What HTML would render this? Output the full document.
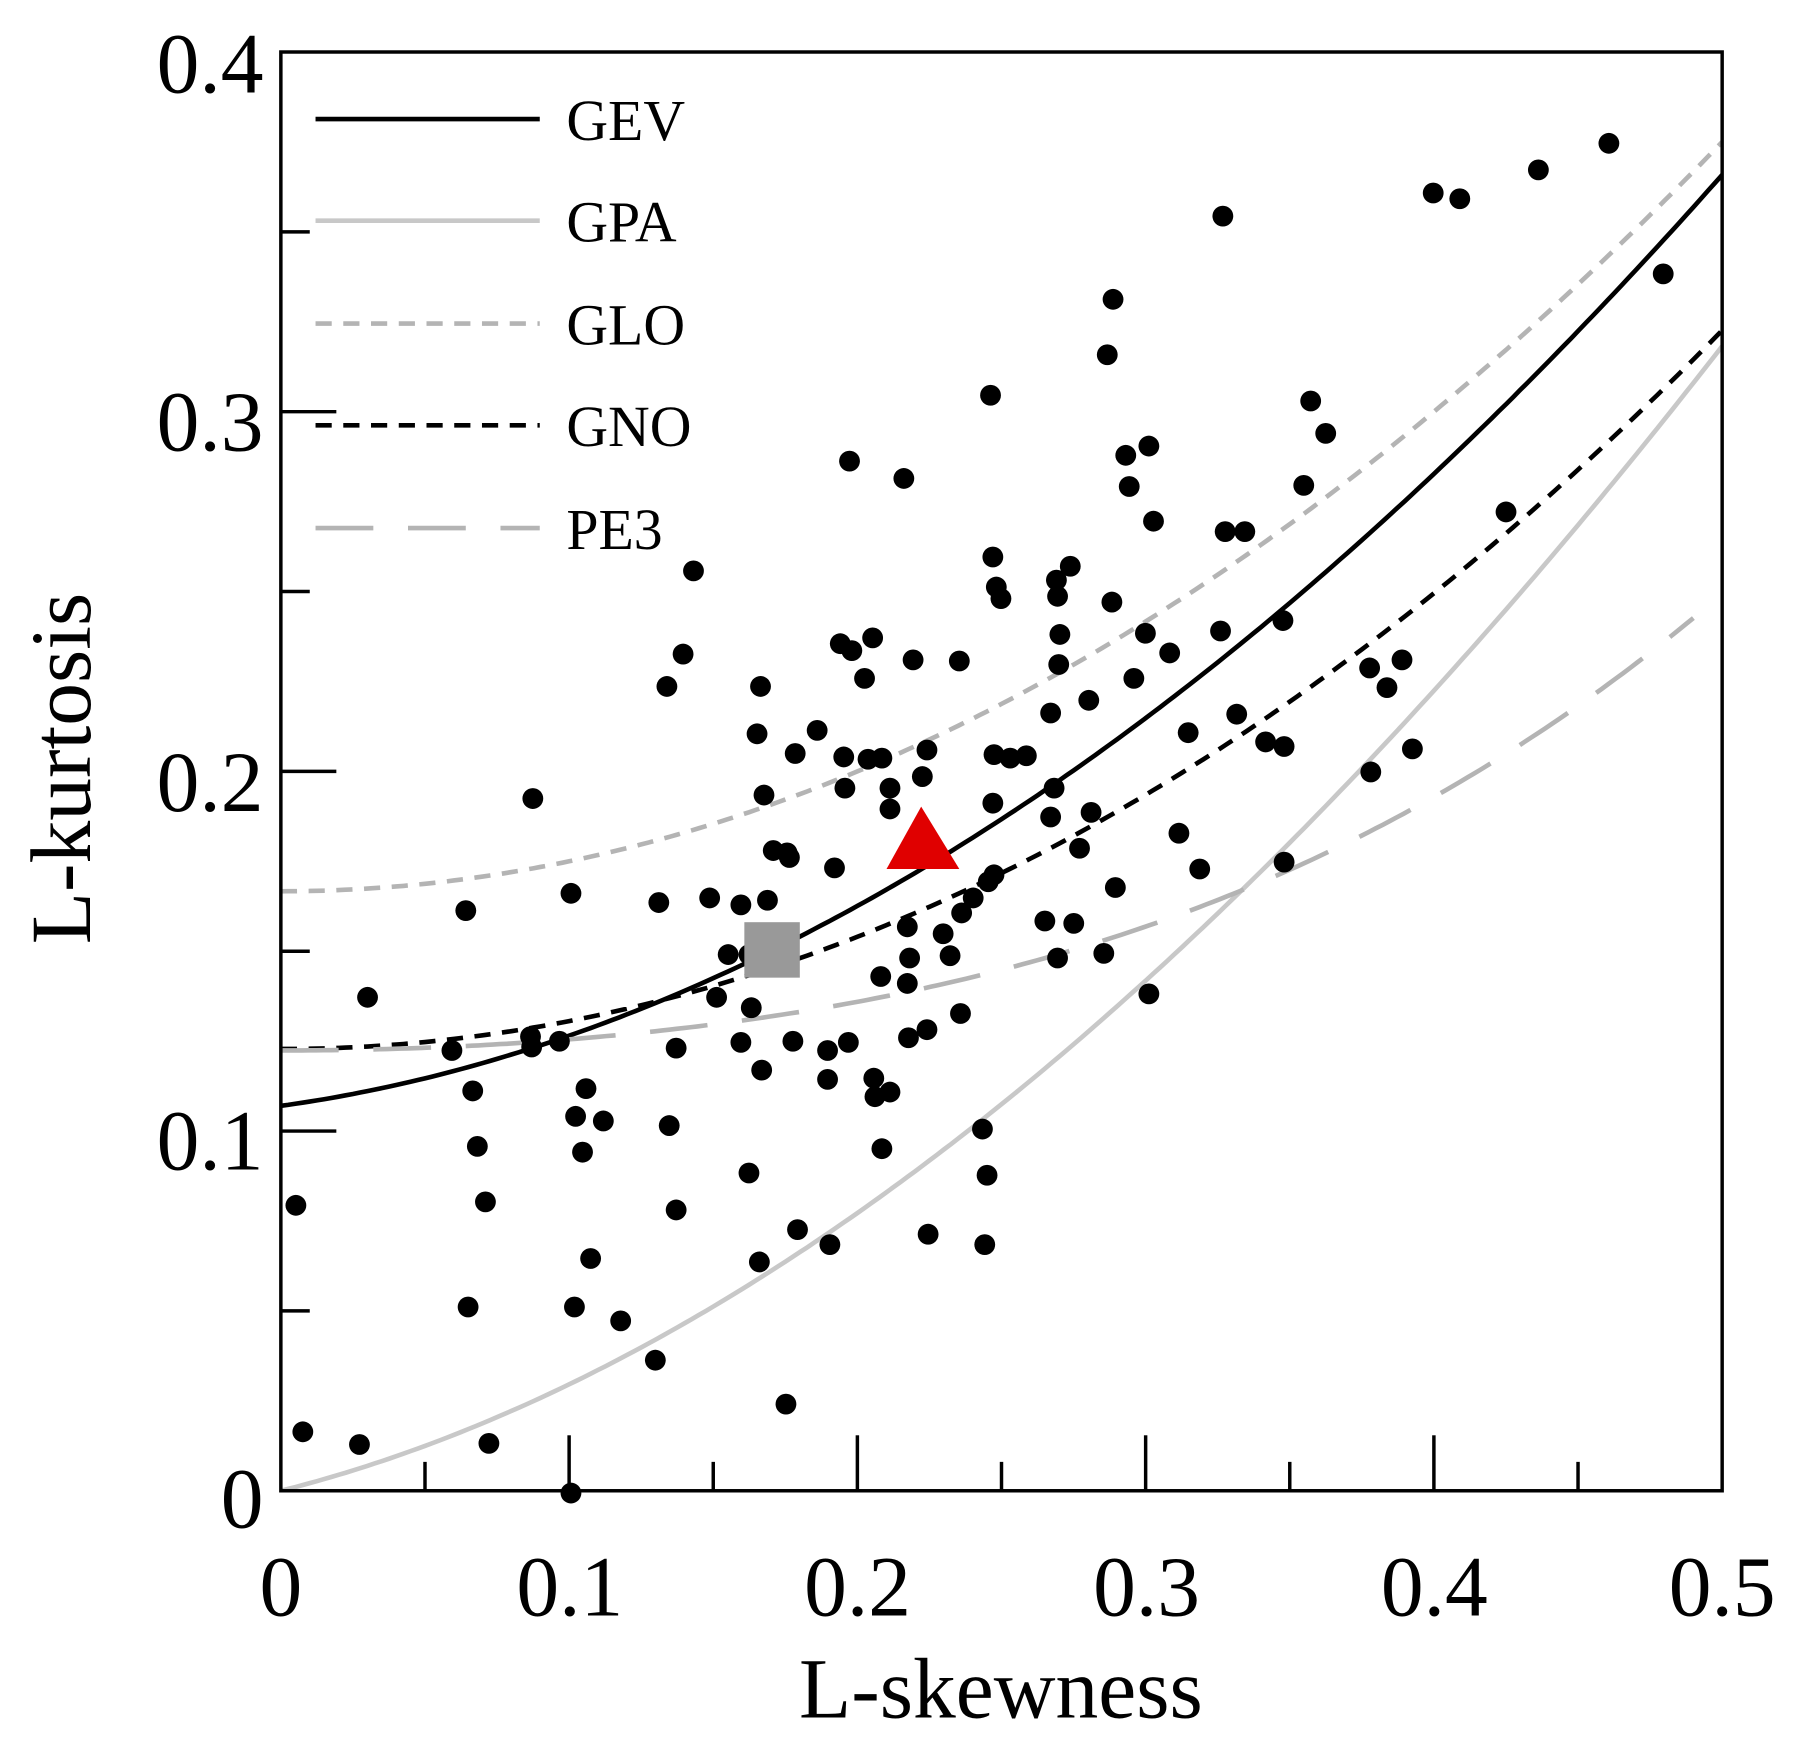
<!DOCTYPE html>
<html><head><meta charset="utf-8"><style>html,body{margin:0;padding:0;background:#fff}svg{display:block}</style></head>
<body>
<svg width="1810" height="1745" viewBox="0 0 1566 1510" preserveAspectRatio="none" xmlns="http://www.w3.org/2000/svg" font-family="Liberation Serif, serif">
<rect width="1566" height="1510" fill="#fff"/>
<defs><clipPath id="c"><rect x="243" y="45" width="1247" height="1245"/></clipPath></defs>
<g id="curves" clip-path="url(#c)" fill="none"></g>
<g id="pts" fill="#000"></g>
<polygon points="797,698 767,752 830,752" fill="#e00000"/>
<rect x="644" y="798" width="48" height="48" fill="#999"/>
<rect x="243" y="45" width="1247" height="1245" fill="none" stroke="#000" stroke-width="3"/>
<g id="ticks" stroke="#000" stroke-width="3"></g>
<g font-size="74" fill="#000">
<text x="228" y="80" text-anchor="end">0.4</text>
<text x="228" y="390" text-anchor="end">0.3</text>
<text x="228" y="702" text-anchor="end">0.2</text>
<text x="228" y="1012" text-anchor="end">0.1</text>
<text x="228" y="1322" text-anchor="end">0</text>
<text x="243" y="1398" text-anchor="middle">0</text>
<text x="493" y="1398" text-anchor="middle">0.1</text>
<text x="742" y="1398" text-anchor="middle">0.2</text>
<text x="992" y="1398" text-anchor="middle">0.3</text>
<text x="1241" y="1398" text-anchor="middle">0.4</text>
<text x="1490" y="1398" text-anchor="middle">0.5</text>
<text x="866" y="1486" text-anchor="middle">L-skewness</text>
<text transform="translate(78,665) rotate(-90)" text-anchor="middle">L-kurtosis</text>
</g>
<g stroke-width="4" fill="none">
<line x1="273" y1="103" x2="467" y2="103" stroke="#000"/>
<line x1="273" y1="191" x2="467" y2="191" stroke="#c8c8c8"/>
<line x1="273" y1="280" x2="467" y2="280" stroke="#b4b4b4" stroke-dasharray="14,10"/>
<line x1="273" y1="368" x2="467" y2="368" stroke="#000" stroke-dasharray="14,10"/>
<line x1="273" y1="457" x2="467" y2="457" stroke="#b4b4b4" stroke-dasharray="50,30"/>
</g>
<g font-size="50" fill="#000">
<text x="490" y="121">GEV</text><text x="490" y="209">GPA</text><text x="490" y="298">GLO</text><text x="490" y="386">GNO</text><text x="490" y="475">PE3</text>
</g>
<script>
(function(){
var X=function(s){return 243+s*2494},Y=function(k){return 1290-k*3112.5};
var f={
gev:function(t){return 0.10701+0.11090*t+0.84838*t*t-0.06669*Math.pow(t,3)+0.00567*Math.pow(t,4)-0.04208*Math.pow(t,5)+0.03763*Math.pow(t,6)},
gpa:function(t){return 0.20196*t+0.95924*t*t-0.20096*Math.pow(t,3)+0.04061*Math.pow(t,4)},
glo:function(t){return (1+5*t*t)/6},
gno:function(t){return 0.12282+0.77518*t*t+0.12279*Math.pow(t,4)-0.13638*Math.pow(t,6)+0.11368*Math.pow(t,8)},
pe3:function(t){return 0.12240+0.30115*t*t+0.95812*Math.pow(t,4)-0.57488*Math.pow(t,6)+0.19383*Math.pow(t,8)}};
var st={gev:['#000',''],gpa:['#c8c8c8',''],glo:['#b4b4b4','14,10'],gno:['#000','14,10'],pe3:['#b4b4b4','50,30']};
var g=document.getElementById('curves'),ns='http://www.w3.org/2000/svg';
for(var k in f){var d='',end=k=='pe3'?0.49:0.5;for(var i=0;i<=200;i++){var t=end*i/200;d+=(i?'L':'M')+X(t).toFixed(1)+','+Y(f[k](t)).toFixed(1);}
var p=document.createElementNS(ns,'path');p.setAttribute('d',d);p.setAttribute('stroke',st[k][0]);p.setAttribute('stroke-width','4');if(st[k][1])p.setAttribute('stroke-dasharray',st[k][1]);g.appendChild(p);}
var pts=[[1392,124],[1331,147],[1240,167],[1263,172],[1058,187],[1439,237],[963,259],[958,307],[857,342],[1134,347],[1147,375],[994,386],[974,394],[735,399],[782,414],[977,421],[1128,420],[998,451],[1060,460],[1077,460],[1303,443],[600,494],[859,482],[862,508],[866,518],[926,490],[914,502],[915,516],[962,521],[1110,537],[591,566],[577,594],[727,557],[737,563],[755,552],[790,571],[830,572],[658,594],[748,587],[991,548],[1012,565],[917,549],[1056,546],[981,587],[916,575],[1185,578],[1213,571],[1200,595],[942,606],[909,617],[707,632],[1028,634],[1070,618],[1095,642],[1111,646],[1222,648],[1186,668],[763,656],[751,657],[730,655],[731,682],[802,649],[798,672],[688,652],[655,635],[461,691],[860,653],[888,654],[874,656],[859,695],[770,682],[770,700],[661,688],[909,707],[944,703],[912,682],[934,734],[860,757],[855,763],[669,736],[681,738],[683,742],[722,751],[664,779],[641,783],[614,777],[570,781],[403,788],[494,773],[1111,746],[1020,721],[1038,752],[965,768],[904,797],[929,799],[955,825],[915,829],[994,860],[318,863],[762,845],[785,802],[787,829],[785,851],[816,808],[832,790],[842,777],[822,827],[630,826],[648,826],[620,863],[641,902],[650,872],[659,926],[686,901],[716,909],[734,902],[716,934],[756,933],[770,945],[763,994],[757,949],[831,877],[786,898],[802,891],[391,909],[459,897],[460,906],[484,901],[409,944],[507,942],[498,966],[522,970],[504,997],[585,907],[579,974],[585,1047],[420,1040],[413,992],[256,1043],[648,1015],[850,977],[854,1017],[852,1077],[803,1068],[690,1064],[718,1077],[511,1089],[405,1131],[497,1131],[537,1143],[567,1177],[657,1092],[680,1215],[262,1239],[311,1250],[423,1249],[494,1292]];
var pg=document.getElementById('pts');pts.forEach(function(q){var c=document.createElementNS(ns,'circle');c.setAttribute('cx',q[0]);c.setAttribute('cy',q[1]);c.setAttribute('r','9');pg.appendChild(c);});
var tg=document.getElementById('ticks');
function ln(a,b,c,d){var l=document.createElementNS(ns,'line');l.setAttribute('x1',a);l.setAttribute('y1',b);l.setAttribute('x2',c);l.setAttribute('y2',d);tg.appendChild(l);}
for(var i=1;i<10;i++){var x=X(i*0.05),len=i%2?25:48;ln(x,1290,x,1290-len);}
for(var i=1;i<8;i++){var y=Y(i*0.05),len=i%2?25:48;ln(243,y,243+len,y);}
})();
</script>
</svg>
</body></html>
